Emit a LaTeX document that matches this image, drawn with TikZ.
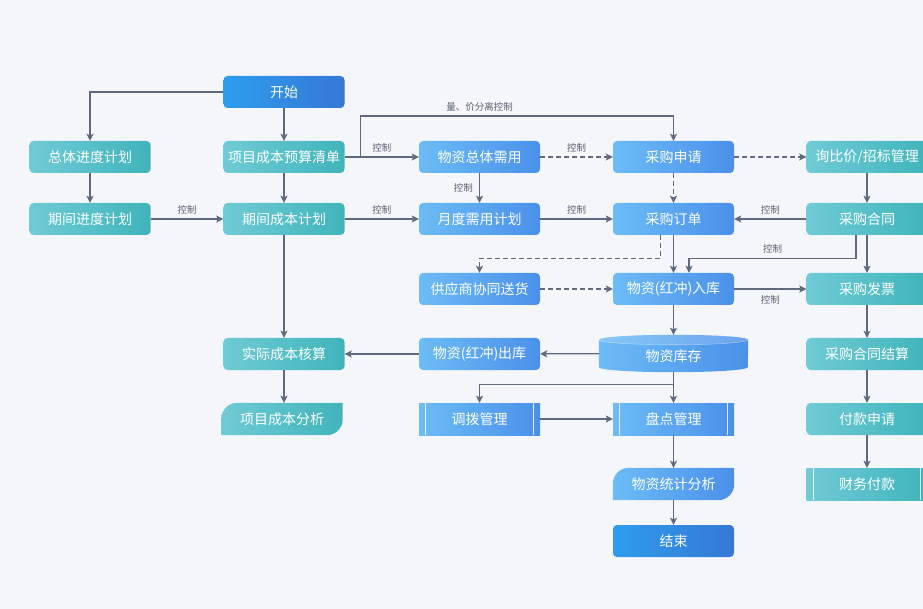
\documentclass[tikz,border=0pt]{standalone}
\usepackage{fontspec}
\setmainfont{Noto Sans CJK SC}
\usetikzlibrary{arrows.meta,backgrounds}
\definecolor{bgc}{HTML}{F5F6FA}
\definecolor{tealL}{HTML}{6FCBD6}
\definecolor{tealR}{HTML}{40B4BA}
\definecolor{blueL}{HTML}{6CBCF6}
\definecolor{blueR}{HTML}{4A90EA}
\definecolor{darkL}{HTML}{2E9DEC}
\definecolor{darkR}{HTML}{3478D5}
\definecolor{linec}{HTML}{5F6980}
\definecolor{labc}{HTML}{5A6273}
\tikzset{
  box/.style={rectangle, rounded corners=4pt, minimum width=121pt, minimum height=32pt,
    inner sep=0pt, text=white, font=\fontsize{14}{16}\selectfont},
  tealbox/.style={box, left color=tealL, right color=tealR},
  bluebox/.style={box, left color=blueL, right color=blueR},
  endbox/.style={box, left color=darkL, right color=darkR},
  bare/.style={box, rounded corners=0pt},
  lab/.style={text=labc, font=\fontsize{9.5}{11}\selectfont, inner sep=1pt},
  flow/.style={draw=linec, line width=1.3pt, -{Stealth[length=7pt,width=7pt,inset=1.5pt]}},
  dflow/.style={flow, dash pattern=on 5pt off 3pt},
}
\begin{document}
\begin{tikzpicture}[x=1pt,y=-1pt]
\useasboundingbox (0,0) rectangle (923,609);
\node[endbox] (ks) at (284,92) {开始};
\node[tealbox] (zjd) at (90,157) {总体进度计划};
\node[tealbox] (qjd) at (90,219) {期间进度计划};
\node[tealbox] (ysqd) at (284,157) {项目成本预算清单};
\node[tealbox] (qcb) at (284,219) {期间成本计划};
\node[tealbox] (sjhs) at (284,354) {实际成本核算};
\node[bare] (cbfx) at (282,419) {项目成本分析};
\node[bluebox] (ztxy) at (479.5,157) {物资总体需用};
\node[bluebox] (ydxy) at (479.5,219) {月度需用计划};
\node[bluebox] (shsh) at (479.5,289) {供应商协同送货};
\node[bluebox] (ck) at (479.5,354) {物资(红冲)出库};
\node[bluebox, rounded corners=0pt] (db) at (479.5,419) {调拨管理};
\node[bluebox] (cgsq) at (673.5,157) {采购申请};
\node[bluebox] (cgdd) at (673.5,219) {采购订单};
\node[bluebox] (rk) at (673.5,289) {物资(红冲)入库};
\node[bare, minimum width=149pt, minimum height=37pt] (kc) at (673.5,353.5) {\smash{\raisebox{-8pt}{物资库存}}};
\node[bluebox, rounded corners=0pt] (pd) at (673.5,419) {盘点管理};
\node[bare] (tjfx) at (673.5,484) {物资统计分析};
\node[endbox] (js) at (673.5,541) {结束};
\node[tealbox] (xbj) at (867,157) {询比价/招标管理};
\node[tealbox] (cght) at (867,219) {采购合同};
\node[tealbox] (cgfp) at (867,289) {采购发票};
\node[tealbox] (htjs) at (867,354) {采购合同结算};
\node[tealbox] (fksq) at (867,419) {付款申请};
\node[tealbox, rounded corners=0pt] (cwfk) at (867,484) {财务付款};
\foreach \n in {db,pd,cwfk}
  \draw[white, opacity=0.85, line width=1pt] ([xshift=7pt]\n.north west) -- ([xshift=7pt]\n.south west)
    ([xshift=-7pt]\n.north east) -- ([xshift=-7pt]\n.south east);
\begin{scope}[on background layer]
\fill[bgc] (0,0) rectangle (923,609);
\shade[left color=tealL, right color=tealR] (cbfx.south west) -- ([yshift=-16pt]cbfx.north west)
  arc[start angle=180, end angle=90, radius=16pt] -- (cbfx.north east) -- ([yshift=16pt]cbfx.south east)
  arc[start angle=0, end angle=-90, radius=16pt] -- cycle;
\shade[left color=blueL, right color=blueR] (tjfx.south west) -- ([yshift=-16pt]tjfx.north west)
  arc[start angle=180, end angle=90, radius=16pt] -- (tjfx.north east) -- ([yshift=16pt]tjfx.south east)
  arc[start angle=0, end angle=-90, radius=16pt] -- cycle;
\shade[left color=blueL, right color=blueR] ([yshift=-5pt]kc.north west) -- ([yshift=5pt]kc.south west)
  arc[start angle=180, end angle=360, x radius=74.5pt, y radius=5pt] -- ([yshift=-5pt]kc.north east)
  arc[start angle=0, end angle=180, x radius=74.5pt, y radius=5pt] -- cycle;
\fill[white, opacity=0.18] ([yshift=-5pt]kc.north) ellipse[x radius=74.5pt, y radius=5pt];
\draw[white, opacity=0.35, line width=0.6pt] ([yshift=-5pt]kc.north west)
  arc[start angle=180, end angle=360, x radius=74.5pt, y radius=5pt];
\end{scope}
\draw[flow] (ks.west) -| (zjd.north);
\draw[flow] (ks) -- (ysqd);
\draw[flow] (zjd) -- (qjd);
\draw[flow] (qjd) -- node[lab, above=3pt] {控制} (qcb);
\draw[flow] (ysqd) -- (qcb);
\draw[flow] (ysqd) -- node[lab, above=3pt] {控制} (ztxy);
\draw[flow] ([xshift=16pt]ysqd.east) -- ++(0,-41) -| node[lab, pos=0.19, above=3pt] {量、价分离控制} (cgsq.north);
\draw[flow] (qcb) -- node[lab, above=3pt] {控制} (ydxy);
\draw[flow] (qcb) -- (sjhs);
\draw[flow] (ztxy) -- node[lab, left=5pt] {控制} (ydxy);
\draw[dflow] (ztxy) -- node[lab, above=3pt] {控制} (cgsq);
\draw[flow] (ydxy) -- node[lab, above=3pt] {控制} (cgdd);
\draw[dflow] (cgsq) -- (xbj);
\draw[dflow] (cgsq) -- (cgdd);
\draw[flow] (xbj) -- (cght);
\draw[flow] (cght) -- node[lab, above=3pt] {控制} (cgdd);
\draw[flow] ([xshift=-11pt]cght.south) -- ++(0,23) -| node[lab, pos=0.25, above=3pt] {控制} ([xshift=15.5pt]rk.north);
\draw[flow] (cght) -- (cgfp);
\draw[flow] (cgdd) -- (rk);
\draw[dflow] ([xshift=-13pt]cgdd.south) -- ++(0,23) -| (shsh.north);
\draw[dflow] (shsh) -- (rk);
\draw[flow] (rk) -- node[lab, below=5pt] {控制} (cgfp);
\draw[flow] (rk) -- (kc);
\draw[flow] (kc) -- (ck);
\draw[flow] (ck) -- (sjhs);
\draw[flow] (kc.south) -- ++(0,12) -| (db.north);
\draw[flow] (kc) -- (pd);
\draw[flow] (db) -- (pd);
\draw[flow] (pd) -- (tjfx);
\draw[flow] (tjfx) -- (js);
\draw[flow] (sjhs) -- (sjhs |- cbfx.north);
\draw[flow] (cgfp) -- (htjs);
\draw[flow] (htjs) -- (fksq);
\draw[flow] (fksq) -- (cwfk);
\end{tikzpicture}
\end{document}
